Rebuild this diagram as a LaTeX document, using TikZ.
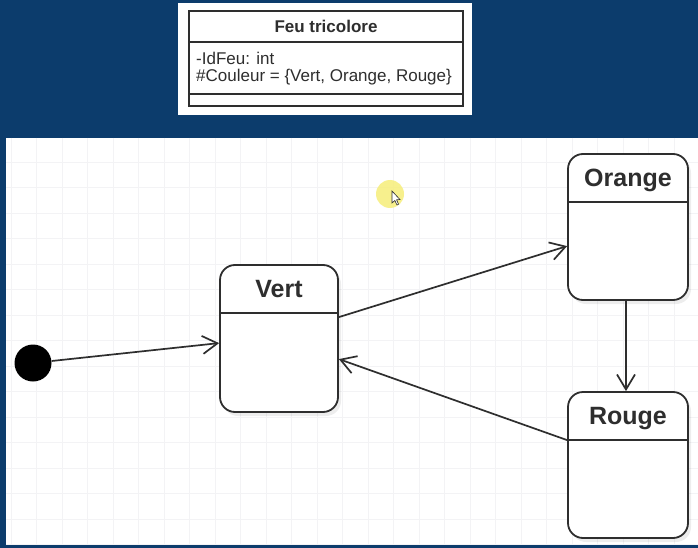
\documentclass[tikz,border=0pt]{standalone}
\usepackage{fontspec}
\setmainfont{Liberation Sans}
\usetikzlibrary{arrows.meta,shadows,calc}
\definecolor{bgblue}{HTML}{0C3C6C}
\definecolor{ink}{HTML}{2E2E2E}
\definecolor{gridc}{HTML}{F3F3F5}
\definecolor{hilite}{HTML}{F6EE7A}
\tikzset{
  statebox/.style={draw=ink, line width=1.8pt, rounded corners=15pt, fill=white,
    minimum width=118pt, minimum height=147pt, inner sep=0pt,
    drop shadow={shadow xshift=3pt, shadow yshift=-4pt, opacity=0.07, fill=black}},
  statetitle/.style={font=\bfseries\fontsize{25}{28}\selectfont, text=ink, inner sep=0pt},
  divider/.style={draw=ink, line width=1.8pt},
  trans/.style={draw=ink, line width=1.7pt, -{Straight Barb[length=15pt,width=18pt,line width=1.7pt]}},
  clsline/.style={font=\fontsize{17}{19}\selectfont, text=ink, inner sep=0pt, anchor=west},
}
\begin{document}
\begin{tikzpicture}[x=1pt,y=-1pt]
\useasboundingbox (0,0) rectangle (698,548);
\fill[bgblue] (0,0) rectangle (698,548);
\fill[white] (6,138) rectangle (698,545);
% faint grid
\foreach \gx in {11,36.5,...,698} \draw[gridc, line width=0.6pt] (\gx,138) -- (\gx,545);
\foreach \gy in {162,187.5,...,545} \draw[gridc, line width=0.6pt] (6,\gy) -- (698,\gy);
% class box
\fill[white] (178,3) rectangle (472,115);
\node[draw=ink, line width=1.6pt, minimum width=274pt, minimum height=95pt, inner sep=0pt] (cls) at (326,58.5) {};
\draw[divider, line width=1.6pt] ($(cls.north west)+(0,32)$) -- ($(cls.north east)+(0,32)$);
\draw[divider, line width=1.6pt] ($(cls.north west)+(0,84)$) -- ($(cls.north east)+(0,84)$);
\node[font=\bfseries\fontsize{17}{19}\selectfont, text=ink, inner sep=0pt] (clstitle) at (326,26) {Feu tricolore};
\node[clsline] (attr1) at (196,58) {-IdFeu: int};
\node[clsline] (attr2) at (196,77) {\#Couleur = \{Vert, Orange, Rouge\}};
% cursor highlight
\fill[hilite, opacity=0.85] (390,194) circle (14pt);
\draw[ink, fill=white, line width=0.6pt] (392,191) -- (392,203) -- (394.8,200.5) -- (397,205) -- (398.6,204.2) -- (396.5,199.8) -- (400,199.6) -- cycle;
% states
\node[statebox] (vert) at (279,338.5) {};
\node[statebox, minimum width=120pt, minimum height=146pt] (orange) at (628,227) {};
\node[statebox, minimum width=120pt, minimum height=146pt] (rouge) at (628,465) {};
\node[statetitle] (tvert) at ($(vert.north)+(0,25)$) {Vert};
\node[statetitle] (torange) at ($(orange.north)+(0,27)$) {Orange};
\node[statetitle] (trouge) at ($(rouge.north)+(0,27.5)$) {Rouge};
\draw[divider] ($(vert.north west)+(0,49)$) -- ($(vert.north east)+(0,49)$);
\draw[divider] ($(orange.north west)+(0,49)$) -- ($(orange.north east)+(0,49)$);
\draw[divider] ($(rouge.north west)+(0,49)$) -- ($(rouge.north east)+(0,49)$);
% initial state
\node[circle, fill=black, minimum size=37pt, inner sep=0pt] (init) at (33,363) {};
% transitions
\coordinate (vin) at ($(vert.north west)+(0,79)$);
\coordinate (vout) at ($(vert.north east)+(0,53)$);
\coordinate (vback) at ($(vert.north east)+(0,95)$);
\coordinate (oin) at ($(orange.north west)+(0,93)$);
\coordinate (rout) at ($(rouge.north west)+(0,49)$);
\draw[trans] (init) -- (vin);
\draw[trans] (vout) -- (oin);
\draw[trans] ($(orange.south)+(-2,0)$) -- ($(rouge.north)+(-2,0)$);
\draw[trans] (rout) -- (vback);
\end{tikzpicture}
\end{document}
